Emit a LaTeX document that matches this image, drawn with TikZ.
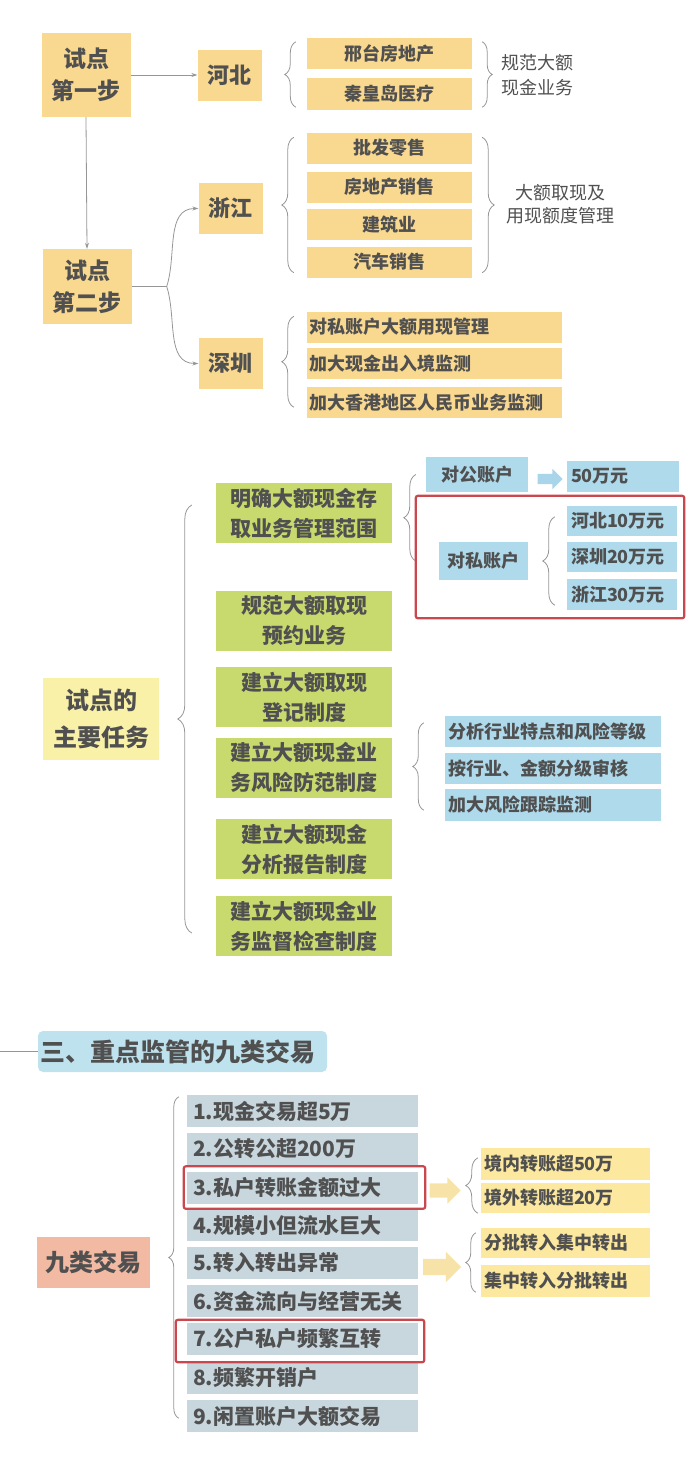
\documentclass[tikz,border=0pt]{standalone}
\usepackage{fontspec}
\setmainfont{Noto Sans CJK SC}
\usetikzlibrary{arrows.meta,calc,shapes.arrows,decorations.pathreplacing}
\definecolor{ink}{RGB}{80,80,80}
\definecolor{wire}{RGB}{150,150,150}
\definecolor{sand}{RGB}{249,216,143}
\definecolor{cream}{RGB}{249,241,168}
\definecolor{leaf}{RGB}{200,218,110}
\definecolor{sky}{RGB}{174,218,236}
\definecolor{slate}{RGB}{200,214,222}
\definecolor{butter}{RGB}{252,232,158}
\definecolor{salmon}{RGB}{242,185,163}
\definecolor{headblue}{RGB}{190,226,238}
\definecolor{hlred}{RGB}{200,72,78}
\definecolor{arrowsand}{RGB}{247,226,168}
\definecolor{arrowsky}{RGB}{168,213,234}
\newcommand{\setfs}[2]{\fontsize{#1}{#2}\selectfont}
\newcommand{\shaft}[1]{\rule{0pt}{#1}}
\tikzset{
    box/.style={inner sep=0pt, text=ink, align=center, font=\setfs{18}{23}\bfseries},
    sandbox/.style={box, fill=sand},
    stepbox/.style={sandbox, minimum width=89pt, font=\setfs{23}{32}\bfseries},
    placebox/.style={sandbox, minimum width=64pt, minimum height=51pt,
                     font=\setfs{22}{26}\bfseries},
    itembox/.style={sandbox, minimum width=165pt, minimum height=31pt},
    wideitem/.style={sandbox, text width=251pt, inner xsep=2pt,
                     minimum height=31pt, align=left},
    leafbox/.style={box, fill=leaf, minimum width=176pt, minimum height=60pt,
                    font=\setfs{21}{30}\bfseries},
    skybox/.style={box, fill=sky},
    skyitem/.style={skybox, text width=210pt, inner xsep=3pt,
                    minimum height=31pt, align=left},
    amount/.style={skybox, text width=102pt, inner xsep=4pt,
                   minimum height=30pt, align=left},
    slatebox/.style={box, fill=slate, text width=219pt, inner xsep=6pt,
                     minimum height=32pt, align=left, font=\setfs{21}{25}\bfseries},
    butterbox/.style={box, fill=butter, text width=163pt, inner xsep=3pt,
                      minimum height=31pt, align=left},
    note/.style={text=ink, font=\setfs{18}{23}, inner sep=0pt},
    link/.style={draw=wire, line width=0.8pt},
    flow/.style={link, -{Stealth[length=6pt,width=4pt]}},
    curly/.style={link, decorate, decoration={brace, amplitude=#1}},
    curly/.default=11pt,
    redframe/.style={draw=hlred, line width=2.2pt, rounded corners=2pt},
    fatarrow/.style={single arrow, draw=none, inner sep=0pt, font=\setfs{1}{1}},
}

\begin{document}
\begin{tikzpicture}[x=1pt, y=-1pt]
    \useasboundingbox (0,0) rectangle (700,1467);

    % pilot, two steps
    \node[stepbox, minimum height=84pt] (s1) at (86,75) {试点\\第一步};
    \node[stepbox, minimum height=75pt] (s2) at (87,286.5) {试点\\第二步};
    \node[placebox] (hb) at (229.5,75) {河北};
    \node[placebox] (zj) at (230.5,208.5) {浙江};
    \node[placebox] (sz) at (230.5,363.5) {深圳};
    \draw[flow] (s1.east) -- (hb.west);
    \draw[flow] (s1.south) -- (s2.north);
    \coordinate (fork) at ($(s2.east)+(35,0)$);
    \draw[link] (s2.east) -- (fork);
    \draw[flow] (fork) to[out=72,in=180] (zj.west);
    \draw[flow] (fork) to[out=-72,in=180] (sz.west);

    \node[itembox] (hb1) at (389.5,53.5) {邢台房地产};
    \node[itembox, minimum height=32pt] (hb2) at (389.5,94) {秦皇岛医疗};
    \draw[curly] ([xshift=-11pt,yshift=3pt]hb2.south west) -- ([xshift=-11pt,yshift=-4pt]hb1.north west);
    \draw[curly=10pt] ([xshift=10pt,yshift=-4pt]hb1.north east) -- ([xshift=10pt,yshift=3pt]hb2.south east);
    \node[note, anchor=west, align=left, font=\setfs{18}{25}] (hbnote) at (501,75) {规范大额\\现金业务};

    \node[itembox] (zj1) at (389.5,148) {批发零售};
    \node[itembox] (zj2) at (389.5,187) {房地产销售};
    \node[itembox] (zj3) at (389.5,224.5) {建筑业};
    \node[itembox] (zj4) at (389.5,262) {汽车销售};
    \draw[curly=12pt] ([xshift=-13pt,yshift=5pt]zj4.south west) -- ([xshift=-13pt,yshift=-5pt]zj1.north west);
    \draw[curly=12pt] ([xshift=10pt,yshift=-5pt]zj1.north east) -- ([xshift=10pt,yshift=5pt]zj4.south east);
    \node[note, align=center] (zjnote) at (560,204) {大额取现及\\用现额度管理};

    \node[wideitem] (sz1) at (434.5,327) {对私账户大额用现管理};
    \node[wideitem] (sz2) at (434.5,363.5) {加大现金出入境监测};
    \node[wideitem] (sz3) at (434.5,402.5) {加大香港地区人民币业务监测};
    \draw[curly=12pt] ([xshift=-13pt,yshift=11pt]sz3.south west) -- ([xshift=-13pt,yshift=-5pt]sz1.north west);

    % main tasks
    \node[box, fill=cream, minimum width=116pt, minimum height=82pt,
          font=\setfs{24}{37}\bfseries] (rw) at (101,719) {试点的\\主要任务};
    \node[leafbox] (g1) at (304,513) {明确大额现金存\\取业务管理范围};
    \node[leafbox] (g2) at (304,621) {规范大额取现\\预约业务};
    \node[leafbox] (g3) at (304,697) {建立大额取现\\登记制度};
    \node[leafbox] (g4) at (304,767.5) {建立大额现金业\\务风险防范制度};
    \node[leafbox] (g5) at (304,849) {建立大额现金\\分析报告制度};
    \node[leafbox] (g6) at (304,926) {建立大额现金业\\务监督检查制度};
    \draw[curly=14pt] ([xshift=-24pt,yshift=-7pt]g6.west) -- ([xshift=-24pt,yshift=8pt]g1.west);

    \node[skybox, minimum width=102pt, minimum height=35pt] (dgg) at (477,474.5) {对公账户};
    \node[fatarrow, fill=arrowsky, minimum height=25pt,
          single arrow head extend=5pt] (arr1) at (547.5,479) {\shaft{10pt}};
    \node[amount, text width=104pt, minimum height=31pt] (w50) at (623,476.5) {50万元};
    \node[skybox, minimum width=89pt, minimum height=38pt] (dsi) at (483.5,561) {对私账户};
    \node[amount] (hb10) at (622,521) {河北10万元};
    \node[amount] (sz20) at (622,557) {深圳20万元};
    \node[amount, minimum height=31pt] (zj30) at (622,594.5) {浙江30万元};
    \draw[curly=12pt] ([xshift=-23pt]dsi.west) -- ([xshift=-10pt]dgg.west);
    \draw[curly=12pt] ([xshift=-12pt,yshift=5pt]zj30.south west) -- ([xshift=-12pt,yshift=-11pt]hb10.north west);
    \draw[redframe] ($(dsi.west |- hb10.north)+(-23,-10)$) rectangle ($(zj30.south east)+(7,8)$);

    \node[skyitem] (fx1) at (553,731.5) {分析行业特点和风险等级};
    \node[skyitem] (fx2) at (553,768.5) {按行业、金额分级审核};
    \node[skyitem, minimum height=32pt] (fx3) at (553,805) {加大风险跟踪监测};
    \draw[curly=11pt] ([xshift=-21pt,yshift=11pt]fx3.south west) -- ([xshift=-21pt,yshift=-7pt]fx1.north west);

    % nine kinds of trade
    \node[box, fill=headblue, rounded corners=5pt, text width=285pt, inner xsep=2pt,
          minimum height=41pt, align=left, font=\setfs{25}{30}\bfseries] (hdr) at (182.5,1051.5)
          {三、重点监管的九类交易};
    \coordinate (edge) at (0,1051.5);
    \draw[link] (edge) -- (hdr.west);

    \node[box, fill=salmon, minimum width=113pt, minimum height=51pt,
          font=\setfs{24}{28}\bfseries] (jy) at (93.5,1262.5) {九类交易};
    \node[slatebox] (i1) at (302.5,1111) {1.现金交易超5万};
    \node[slatebox] (i2) at (302.5,1149) {2.公转公超200万};
    \node[slatebox] (i3) at (302.5,1187.5) {3.私户转账金额过大};
    \node[slatebox] (i4) at (302.5,1225) {4.规模小但流水巨大};
    \node[slatebox] (i5) at (302.5,1262.5) {5.转入转出异常};
    \node[slatebox] (i6) at (302.5,1301) {6.资金流向与经营无关};
    \node[slatebox] (i7) at (302.5,1339) {7.公户私户频繁互转};
    \node[slatebox] (i8) at (302.5,1378) {8.频繁开销户};
    \node[slatebox] (i9) at (302.5,1416) {9.闲置账户大额交易};
    \draw[curly=10pt] ([xshift=-8pt,yshift=14pt]i9.south west) -- ([xshift=-8pt,yshift=-2pt]i1.north west);
    \draw[redframe] ($(i3.north west)+(-3,-5)$) rectangle ($(i3.south east)+(7,5)$);
    \draw[redframe] ($(i7.north west)+(-11,-3)$) rectangle ($(i7.south east)+(6,7)$);

    \node[fatarrow, fill=arrowsand, minimum height=31pt,
          single arrow head extend=6pt] (arr2) at (441.5,1190.5) {\shaft{14pt}};
    \node[fatarrow, fill=arrowsand, minimum height=38pt,
          single arrow head extend=7pt] (arr3) at (438,1267) {\shaft{16pt}};
    \node[butterbox, minimum height=32pt] (jn) at (565.5,1164) {境内转账超50万};
    \node[butterbox, minimum height=30pt] (jw) at (565.5,1198) {境外转账超20万};
    \node[butterbox, minimum height=30pt] (fp) at (565.5,1243) {分批转入集中转出};
    \node[butterbox, minimum height=32pt] (jz) at (565.5,1281) {集中转入分批转出};
    \draw[curly=12pt] ([xshift=-3pt]jw.south west) -- ([xshift=-3pt,yshift=-10pt]jn.north west);
    \draw[curly=10pt] ([xshift=-5pt,yshift=5pt]jz.south west) -- ([xshift=-5pt,yshift=-5pt]fp.north west);

\end{tikzpicture}
\end{document}
